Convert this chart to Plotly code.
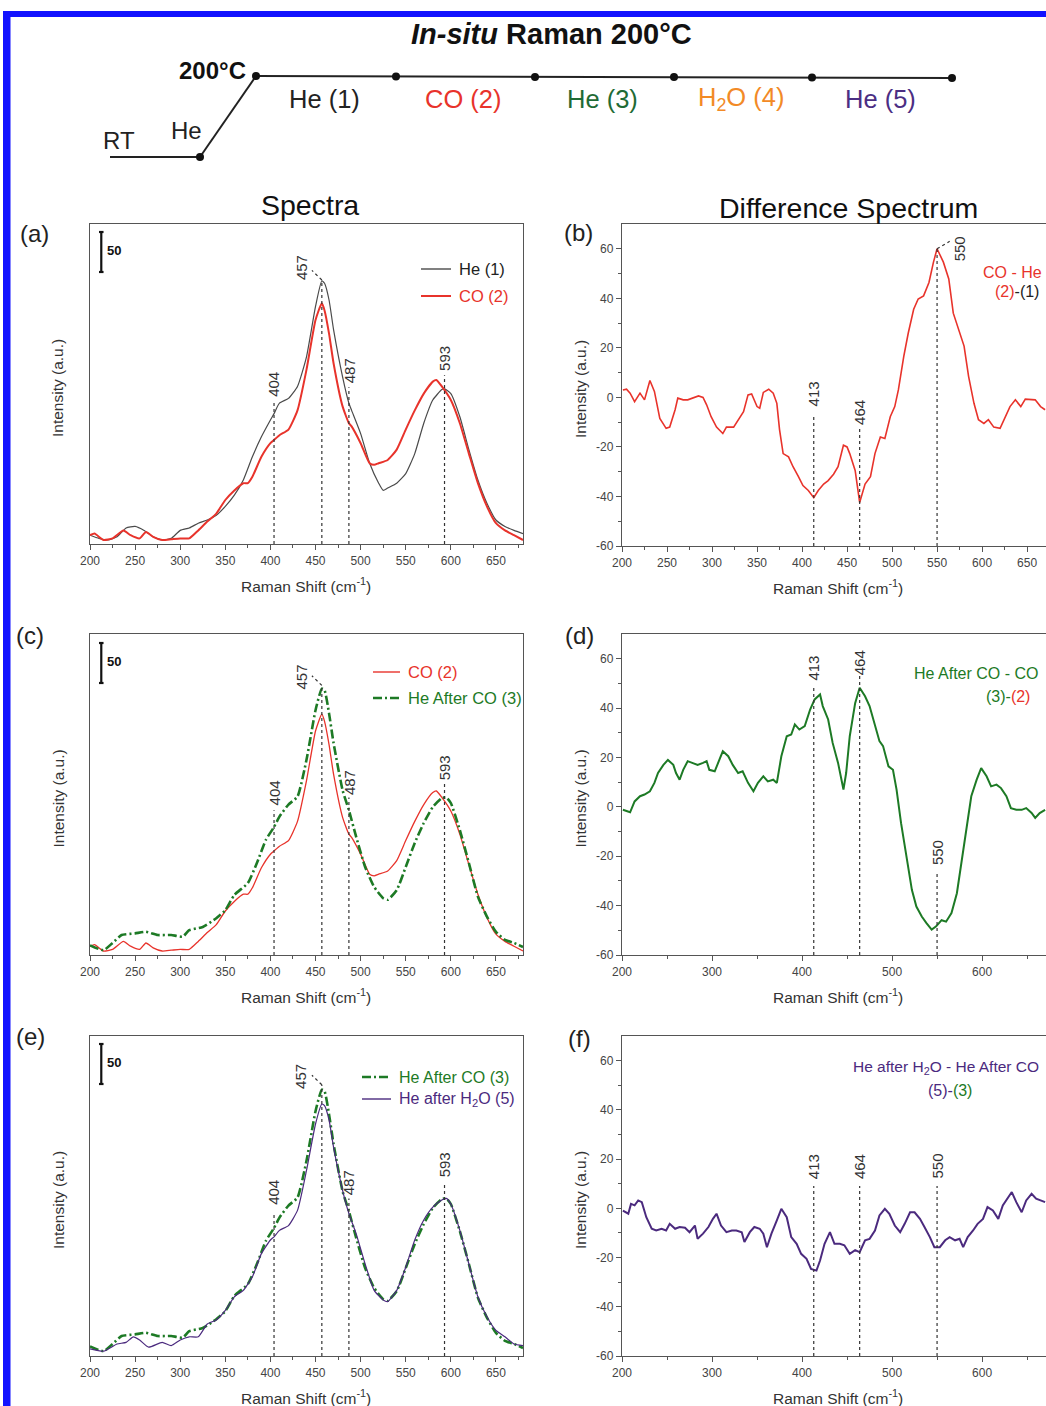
import plotly.graph_objects as go

W, H = 1046, 1406
FONT = "Liberation Sans, Arial, sans-serif"
NARROW = "Liberation Sans Narrow, Arial Narrow, Liberation Sans, sans-serif"

# ---------------- data ----------------
he1_x = [200,210,220,230,240,250,260,270,280,290,300,310,320,330,340,350,360,370,380,390,
         400,404,410,420,430,440,450,457,460,465,470,480,487,490,500,510,520,525,530,540,
         550,560,570,580,590,593,600,610,620,630,640,650,660,670,680]
he1_y = [11,7,5,9,20,22,17,9,5,7,17,20,26,30,36,47,61,80,109,134,
         155,163,176,182,197,234,297,329,326,305,268,209,176,167,138,101,76,67,70,76,
         88,113,151,180,193,194,188,159,118,80,51,30,22,17,13]

co2_x = [200,205,215,225,237,245,255,262,270,280,290,300,310,320,330,340,350,360,370,375,
         380,390,400,404,410,420,430,440,450,457,460,465,470,480,487,490,500,510,515,520,
         530,540,550,560,570,580,584,590,600,610,620,630,640,650,660,670,680]
co2_y = [11,13,5,7,17,11,7,15,9,5,6,7,7,17,28,38,55,67,76,76,
         84,109,126,130,136,143,167,218,280,301,292,263,226,172,151,147,126,101,99,101,
         105,118,143,167,188,203,205,197,180,151,113,76,47,26,17,11,5]

he3_x = [200,215,225,235,250,262,275,290,303,310,325,340,350,360,375,385,395,404,410,420,
         430,440,450,457,460,465,470,480,487,495,505,515,525,530,540,550,560,570,580,590,
         595,600,610,620,630,640,650,660,670,680]
he3_y = [12,6,15,25,27,29,25,25,23,31,35,46,56,75,90,115,144,160,173,188,
         198,244,306,333,331,302,265,206,181,148,110,85,71,69,81,110,140,165,185,196,
         197,190,156,115,73,48,29,19,15,10]

he5_x = [200,215,230,240,248,255,265,280,290,300,310,320,330,340,350,360,370,380,390,400,
         404,410,420,430,440,450,457,460,465,470,480,487,495,505,515,525,530,540,550,560,
         570,580,590,595,600,610,620,630,640,650,660,670,680]
he5_y = [9,6,15,17,24,20,11,17,13,20,24,24,40,45,57,74,82,99,128,145,
         149,157,163,182,232,290,315,313,295,261,207,178,153,115,82,70,68,82,111,145,
         170,186,195,197,190,157,115,74,49,32,24,15,13]

d21_x = [201,205,209,214,220,225,231,236,242,249,253,259,262,268,273,279,285,290,294,299,
         305,312,316,324,329,335,340,344,350,353,357,363,368,372,375,379,385,390,396,401,
         407,413,418,424,429,435,440,446,450,453,459,462,464,470,476,481,487,492,498,503,
         507,513,518,524,529,535,541,546,550,557,563,568,574,580,585,591,596,602,607,613,
         620,626,631,637,643,648,654,659,665,670]
d21_y = [3,3.3,1.7,-1.7,1.7,-1,6.8,2.4,-8.5,-12.5,-12,-5,-0.3,-1,-1,-0.3,0.6,0,-3,-7.8,
         -12,-14.6,-12,-12,-9,-5.8,1,1.4,-3.7,-4.4,2,3.3,1.7,-2.4,-13,-22.7,-24,-28,-32,-35.6,
         -37.6,-40.5,-37.6,-35,-33.6,-31,-28,-19.3,-20,-22.7,-29.5,-37.6,-42.4,-35,-32,-22.7,-16,-16.6,-7.8,-3.7,
         3,16.6,26,35.6,39.7,41,46.4,54.6,60,54.6,47.8,34,27.5,20.7,8.5,-2.4,-9,-10.5,-9,-12,
         -12.5,-7.8,-3.7,-1,-3.7,-0.7,-1,-1,-3.7,-5]

d32_x = [201,209,214,220,225,231,236,240,246,251,257,260,264,268,273,279,284,290,294,297,
         303,309,312,318,323,329,334,340,346,351,357,362,368,372,377,383,388,392,397,403,
         409,414,420,423,429,434,440,446,449,453,459,464,470,475,481,486,490,496,501,505,
         510,516,522,527,533,538,544,549,555,560,566,572,577,583,588,594,599,605,610,616,
         621,627,632,638,644,649,655,659,664,670]
d32_y = [-1.2,-2.2,2.2,4.3,5,6.3,9.7,13.7,17,19,17,13.7,11,15,18.5,17.8,17,17.8,18.5,15,
         14.4,19.8,22.5,20.5,17,13.7,14.4,9.7,6.3,9.7,12.4,10.3,11,9.7,20.5,28.6,29.3,33.4,31.3,32.7,
         39.4,43.5,45.5,40.8,35.4,25.9,17.8,7,13.7,28.6,42,48.2,44.8,40.8,32.7,26.6,24.6,16.4,15,7,
         -6.6,-20,-33.6,-40.4,-44.4,-47,-49.7,-48.4,-45.9,-46.5,-43,-35,-22.8,-9.3,4.3,11,15.7,12.4,8.3,9,
         7.6,4.3,-0.5,-1.2,-1.2,-0.5,-2.5,-4.5,-2.5,-1.2]

d53_x = [201,207,210,214,218,222,227,233,238,244,249,253,259,264,270,275,281,284,290,296,
         301,305,310,316,322,327,333,336,342,347,353,357,361,366,372,377,383,388,394,399,
         405,410,416,420,425,431,436,442,447,453,459,464,470,475,481,486,492,497,503,509,
         514,520,525,531,536,542,547,553,559,564,570,575,579,584,590,595,601,606,612,618,
         623,629,633,638,644,649,655,660,666,670]
d53_y = [-0.9,-2.2,1.8,1.2,3.2,2.5,-3.6,-8.3,-9,-8.3,-9,-6.3,-8.3,-7.6,-7.9,-9.7,-7,-12.4,-10.3,-7.6,
         -4.3,-2.2,-7,-9.7,-9,-9,-9.7,-13.7,-9.7,-7.6,-8.3,-10.3,-15.8,-10.3,-4.9,-0.2,-3.6,-11.7,-14.4,-18.5,
         -20.5,-24.6,-25.3,-21.2,-14.4,-9.7,-14.4,-14.4,-15,-18.5,-17,-17.8,-13,-12.4,-9,-2.9,-0.2,-2.2,-7,-9.7,
         -6.3,-1.6,-1.6,-4.3,-7.6,-11.7,-15.8,-15.8,-13,-11.7,-13,-12.4,-15.8,-11.7,-9,-6.3,-4.3,0.5,-0.9,-4.3,
         1.2,4.5,6.6,2.5,-1.6,3.2,5.9,3.9,3.2,2.5]

spec_peaks = [404, 457, 487, 593]
diff_peaks = [413, 464, 550]
diff_y_ticks = list(range(-60, 61, 20))
scale_bar_value = 50
steps = ["He (1)", "CO (2)", "He (3)", "H<sub>2</sub>O (4)", "He (5)"]

# ---------------- styles ----------------
C_GREY = "#4a4a4a"
C_RED = "#e8332b"
C_GREEN = "#1d7a25"
C_PURPLE = "#4b2a7e"
C_ORANGE = "#f28a26"
C_AX = "#555555"
C_TXT = "#333333"

def fx(px):
    return px / W

def fy(py):
    return 1 - py / H

fig = go.Figure()
shapes = []
anns = []

def line_px(x0, y0, x1, y1, color="#222", width=2, dash=None):
    d = dict(type="line", xref="paper", yref="paper", x0=fx(x0), y0=fy(y0),
             x1=fx(x1), y1=fy(y1), line=dict(color=color, width=width))
    if dash:
        d["line"]["dash"] = dash
    shapes.append(d)

def dot_px(x, y, r=4):
    shapes.append(dict(type="circle", xref="paper", yref="paper", x0=fx(x - r), x1=fx(x + r),
                       y0=fy(y + r), y1=fy(y - r), fillcolor="#111", line=dict(width=0)))

def text_px(text, x, y, size=14, color=C_TXT, family=FONT, xanchor="center", angle=0):
    anns.append(dict(text=text, x=fx(x), y=fy(y), xref="paper", yref="paper", showarrow=False,
                     xanchor=xanchor, yanchor="middle", textangle=angle,
                     font=dict(size=size, color=color, family=family)))

# blue frame
shapes.append(dict(type="rect", xref="paper", yref="paper", x0=fx(3), x1=fx(10.5), y0=0, y1=fy(11),
                   fillcolor="#1212ff", line=dict(width=0)))
shapes.append(dict(type="rect", xref="paper", yref="paper", x0=fx(3), x1=1, y0=fy(17), y1=fy(11),
                   fillcolor="#1212ff", line=dict(width=0)))

# ---------------- scheme ----------------
text_px("<b><i>In-situ</i> Raman 200°C</b>", 551, 34, size=29, color="#111", family=NARROW)
text_px("<b>200°C</b>", 212, 70, size=24, color="#111", family=NARROW)
text_px("RT", 119, 141, size=24, color="#222", family=NARROW)
text_px("He", 186, 131, size=24, color="#222", family=NARROW)
line_px(110, 157, 200, 157)
line_px(200, 157, 256, 76)
seg_x = [256, 396, 535, 674, 812, 952]
seg_y = [76, 76.5, 77, 77, 77.5, 78]
line_px(256, 76, 952, 78)
dot_px(200, 157)
for sx, sy in zip(seg_x, seg_y):
    dot_px(sx, sy)
step_colors = ["#222", C_RED, "#1f6b35", C_ORANGE, "#4b2e83"]
for i, (s, c) in enumerate(zip(steps, step_colors)):
    text_px(s, (seg_x[i] + seg_x[i + 1]) / 2 - 2, 99, size=25.5, color=c, family=NARROW)

text_px("Spectra", 310, 205, size=28.5, color="#111")
text_px("Difference Spectrum", 848, 208, size=28.5, color="#111")

# ---------------- axes ----------------
left_dom_x = [fx(90), fx(523)]
right_dom_x = [fx(622), 1.0]
panel_px = {  # (top, bottom)
    1: (224, 544), 2: (224, 546), 3: (634, 955), 4: (634, 955), 5: (1036, 1356), 6: (1036, 1356)
}
layout_axes = {}
for k in range(1, 7):
    top, bot = panel_px[k]
    xname = "xaxis" if k == 1 else f"xaxis{k}"
    yname = "yaxis" if k == 1 else f"yaxis{k}"
    ysuf = "y" if k == 1 else f"y{k}"
    xsuf = "x" if k == 1 else f"x{k}"
    left = (k % 2 == 1)
    if left:
        xd = dict(domain=left_dom_x, range=[200, 680], tickmode="linear", tick0=200, dtick=50,
                  minor=dict(tick0=200, dtick=25, ticks="outside", ticklen=3, tickcolor=C_AX))
        yd = dict(domain=[fy(bot), fy(top)], range=[0, (bot - top) / 0.8], showticklabels=False,
                  ticks="", showline=True, mirror=True, linecolor=C_AX, linewidth=1.4,
                  showgrid=False, zeroline=False, anchor=xsuf, automargin=False)
    else:
        dt = 50 if k == 2 else 100
        xd = dict(domain=right_dom_x, range=[200, 671], tickmode="linear", tick0=200, dtick=dt,
                  minor=dict(tick0=200, dtick=dt / 2, ticks="outside", ticklen=3, tickcolor=C_AX))
        yd = dict(domain=[fy(bot), fy(top)], range=[-60, 70], tickmode="array",
                  tickvals=diff_y_ticks, ticktext=[str(v) for v in diff_y_ticks],
                  ticks="outside", ticklen=5, tickcolor=C_AX,
                  minor=dict(tickmode="array", tickvals=list(range(-50, 70, 20)), ticks="outside",
                             ticklen=3, tickcolor=C_AX),
                  showline=True, mirror=False, linecolor=C_AX, linewidth=1.4, showgrid=False,
                  zeroline=False, anchor=xsuf, automargin=False,
                  tickfont=dict(size=12, color="#444", family=FONT))
    xd.update(dict(showline=True, mirror=True, linecolor=C_AX, linewidth=1.4, ticks="outside",
                   ticklen=5, tickcolor=C_AX, showgrid=False, zeroline=False, anchor=ysuf,
                   automargin=False, tickfont=dict(size=12, color="#444", family=FONT)))
    layout_axes[xname] = xd
    layout_axes[yname] = yd

    # axis titles
    cx = 306 if left else 838
    text_px("Raman Shift (cm<sup>-1</sup>)", cx, bot + 41, size=15.5, color=C_TXT)
    ix = 58 if left else 580
    text_px("Intensity (a.u.)", ix, (top + bot) / 2 + 4, size=15.5, color=C_TXT, angle=-90)

# panel letters
for lab, (px_, py_) in zip("abcdef", [(34, 233), (578, 232), (30, 635), (579, 635), (30, 1036), (579, 1038)]):
    text_px(f"({lab})", px_, py_, size=24, color="#222")

# ---------------- traces ----------------
def add(x, y, ax, color, width, dash=None, name="", shape="linear"):
    xa = "x" if ax == 1 else f"x{ax}"
    ya = "y" if ax == 1 else f"y{ax}"
    ln = dict(color=color, width=width, shape=shape)
    if shape == "spline":
        ln["smoothing"] = 0.5
    if dash:
        ln["dash"] = dash
    fig.add_trace(go.Scatter(x=x, y=y, xaxis=xa, yaxis=ya, mode="lines", line=ln,
                             name=name, showlegend=False, hoverinfo="skip"))

DASHDOT = "9px,3px,2px,3px"
add(he1_x, he1_y, 1, C_GREY, 1.2, name="He (1)", shape="spline")
add(co2_x, co2_y, 1, C_RED, 2.0, name="CO (2)", shape="spline")
add(co2_x, co2_y, 3, C_RED, 1.3, name="CO (2)", shape="spline")
add(he3_x, he3_y, 3, C_GREEN, 2.6, DASHDOT, name="He After CO (3)", shape="spline")
add(he3_x, he3_y, 5, C_GREEN, 2.6, DASHDOT, name="He After CO (3)", shape="spline")
add(he5_x, he5_y, 5, C_PURPLE, 1.2, name="He after H2O (5)", shape="spline")
add(d21_x, d21_y, 2, C_RED, 1.6, name="(2)-(1)")
add(d32_x, d32_y, 4, C_GREEN, 2.0, name="(3)-(2)")
add(d53_x, d53_y, 6, C_PURPLE, 2.0, name="(5)-(3)")

# ---------------- peak markers ----------------
def vline(ax, x, y0, y1):
    xa = "x" if ax == 1 else f"x{ax}"
    ya = "y" if ax == 1 else f"y{ax}"
    shapes.append(dict(type="line", xref=xa, yref=ya, x0=x, x1=x, y0=y0, y1=y1,
                       line=dict(color="#333", width=1.2, dash="dot")))

def seg(ax, x0, y0, x1, y1):
    xa = "x" if ax == 1 else f"x{ax}"
    ya = "y" if ax == 1 else f"y{ax}"
    shapes.append(dict(type="line", xref=xa, yref=ya, x0=x0, x1=x1, y0=y0, y1=y1,
                       line=dict(color="#333", width=1.2, dash="dot")))

def plabel(ax, text, x, y, size=15):
    xa = "x" if ax == 1 else f"x{ax}"
    ya = "y" if ax == 1 else f"y{ax}"
    anns.append(dict(text=text, x=x, y=y, xref=xa, yref=ya, showarrow=False, textangle=-90,
                     xanchor="center", yanchor="middle", font=dict(size=size, color=C_TXT, family=FONT)))

# spectra panels: (line top, label center) per peak
spec_marks = {
    1: [(180, 199), (330, 345), (196, 217), (211, 232)],
    3: [(181, 202), (337, 347), (197, 216), (216, 234)],
    5: [(180, 204), (339, 349), (197, 217), (214, 239)],
}
for ax, marks in spec_marks.items():
    for p, (top, lab) in zip(spec_peaks, marks):
        vline(ax, p, 0, top)
        if p == 457:
            seg(ax, p, top, p - 11, top + 12)
            plabel(ax, str(p), p - 23, lab)
        else:
            plabel(ax, str(p), p, lab)
    # scale bar
    xa = "x" if ax == 1 else f"x{ax}"
    ya = "y" if ax == 1 else f"y{ax}"
    for (a0, b0, a1, b1) in [(212.5, 340, 212.5, 340 + scale_bar_value), (210, 340, 215, 340),
                             (210, 340 + scale_bar_value, 215, 340 + scale_bar_value)]:
        shapes.append(dict(type="line", xref=xa, yref=ya, x0=a0, x1=a1, y0=b0, y1=b1,
                           line=dict(color="#111", width=2.2)))
    anns.append(dict(text=f"<b>{scale_bar_value}</b>", x=217, y=340 + scale_bar_value * 0.55,
                     xref=xa, yref=ya, showarrow=False, xanchor="left", yanchor="middle",
                     font=dict(size=13, color="#111", family=FONT)))

diff_marks = {
    2: [(-7, 1.5), (-12, -6), (60, None)],
    4: [(48.2, 56.3), (53, 58.4), (-27, -18.7)],
    6: [(9.1, 17), (9.1, 17), (9.1, 17)],
}
for ax, marks in diff_marks.items():
    for p, (top, lab) in zip(diff_peaks, marks):
        vline(ax, p, -60, top)
        if lab is None:
            seg(ax, p, top, p + 14, top + 3)
            plabel(ax, str(p), p + 25, top)
        else:
            plabel(ax, str(p), p, lab)

# ---------------- legends ----------------
def legend_item(x0, x1, y, color, width, dash, label, size=16.5):
    line_px(x0, y, x1, y, color=color, width=width, dash=dash)
    text_px(label, x1 + 6, y, size=size, color=color if color != C_GREY else "#222", xanchor="left")

legend_item(421, 451, 269, C_GREY, 1.4, None, "He (1)")
legend_item(421, 451, 296, C_RED, 2.0, None, "CO (2)")
legend_item(373, 400, 672, C_RED, 1.4, None, "CO (2)")
legend_item(373, 400, 698, C_GREEN, 2.6, DASHDOT, "He After CO (3)")
legend_item(362, 391, 1077, C_GREEN, 2.6, DASHDOT, "He After CO (3)", size=16)
legend_item(362, 391, 1099, C_PURPLE, 1.4, None, "He after H<sub>2</sub>O (5)", size=16)

# difference labels
text_px("CO - He", 1044, 272, size=16, color=C_RED, xanchor="right")
text_px(f"<span style='color:{C_RED}'>(2)</span>-(1)", 1041, 292, size=16, color="#222", xanchor="right")
text_px("He After CO - CO", 976, 673, size=16, color=C_GREEN)
text_px(f"(3)-<span style='color:{C_RED}'>(2)</span>", 1008, 696, size=16, color=C_GREEN)
text_px("He after H<sub>2</sub>O - He After CO", 946, 1067, size=15.5, color=C_PURPLE)
text_px(f"(5)-<span style='color:{C_GREEN}'>(3)</span>", 950, 1090, size=16, color=C_PURPLE)

fig.update_layout(
    width=W, height=H, margin=dict(l=0, r=0, t=0, b=0, pad=0, autoexpand=False),
    paper_bgcolor="white", plot_bgcolor="white", showlegend=False,
    shapes=shapes, annotations=anns, font=dict(family=FONT),
    **layout_axes,
)
fig.write_html("out.html", config={"displayModeBar": False},
               post_script="document.body.style.margin='0';document.body.style.overflow='hidden';")
